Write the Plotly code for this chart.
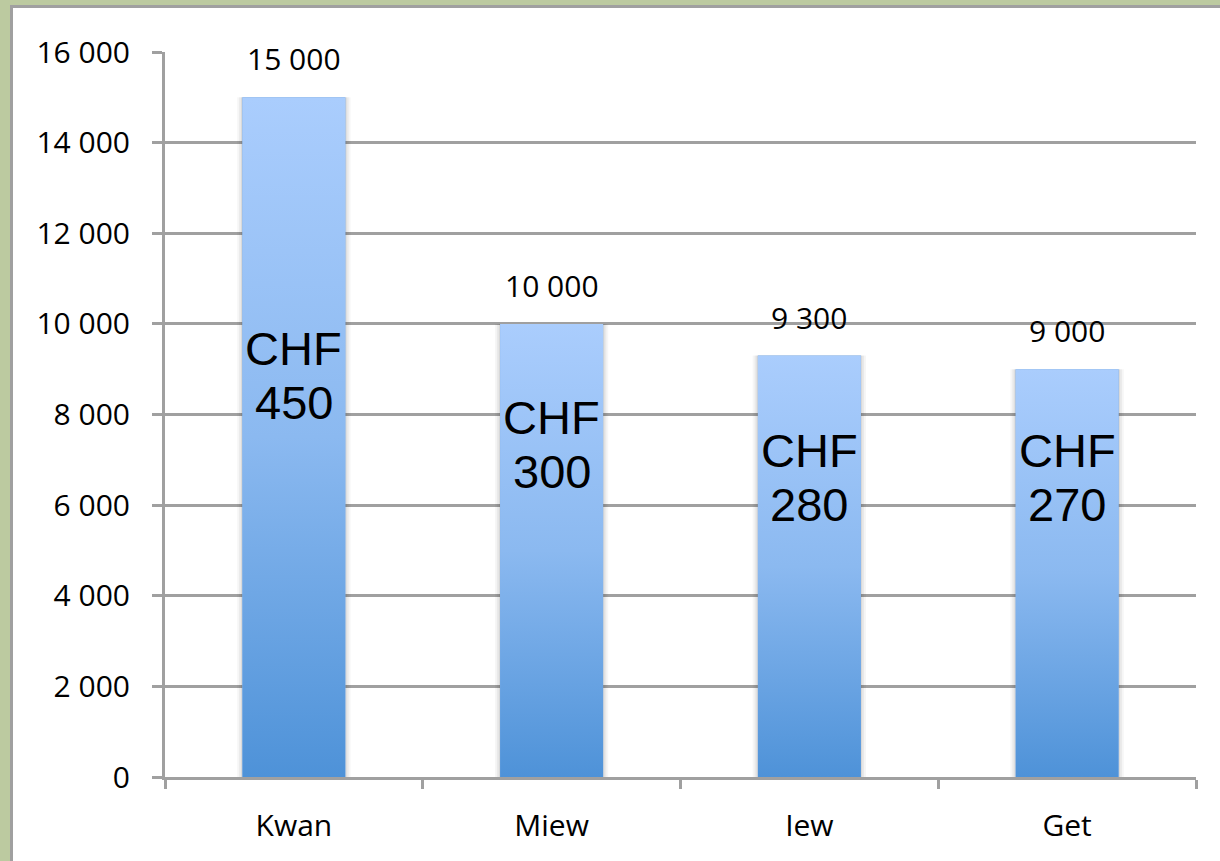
import base64
import plotly.graph_objects as go

# data
categories = ["Kwan", "Miew", "Iew", "Get"]
counts = [15000, 10000, 9300, 9000]
prices = [450, 300, 280, 270]

# heights (data units) where the CHF labels sit inside the bars
chf_label_y = [8850, 7330, 6600, 6600]

W, H = 1220, 861
ML, MT = 165, 52
PW, PH = 1031, 725
MR, MB = W - ML - PW, H - MT - PH
GRID = "#a0a0a0"


def fmt(v):
    return f"{v:,}".replace(",", " ")


# vertical gradient for the bars (light top -> darker bottom)
svg = ('<svg xmlns="http://www.w3.org/2000/svg" width="10" height="100" viewBox="0 0 10 100" '
       'preserveAspectRatio="none"><defs><linearGradient id="g" x1="0" y1="0" x2="0" y2="1">'
       '<stop offset="0" stop-color="#aacdfd"/><stop offset="0.5" stop-color="#8bb9f0"/>'
       '<stop offset="1" stop-color="#4e92d8"/></linearGradient></defs>'
       '<rect width="10" height="100" fill="url(#g)"/></svg>')
grad_src = "data:image/svg+xml;base64," + base64.b64encode(svg.encode()).decode()

bar_w = 0.4
lab_font = dict(family="Open Sans", size=30, color="black")
chf_font = dict(family="Liberation Sans, Arial", size=47, color="black")

fig = go.Figure()
# soft shadow round the bars
for sw, a in [(0.44, 0.035), (0.425, 0.05), (0.41, 0.07)]:
    fig.add_trace(go.Bar(
        x=categories, y=counts, width=sw,
        marker=dict(color=f"rgba(0,0,0,{a})", line=dict(width=0)),
        hoverinfo="skip",
    ))
fig.add_trace(go.Bar(
    x=categories, y=counts,
    marker=dict(color="#7fb0ea", line=dict(width=0)),
    width=bar_w,
    hoverinfo="x+y",
))

images = []
annotations = []
for i, (c, v, p, ly) in enumerate(zip(categories, counts, prices, chf_label_y)):
    images.append(dict(
        source=grad_src, xref="x", yref="y",
        x=i - bar_w / 2, y=v, sizex=bar_w, sizey=v,
        xanchor="left", yanchor="top", sizing="stretch", layer="above",
    ))
    annotations.append(dict(
        x=c, y=v, xref="x", yref="y", text=fmt(v), showarrow=False,
        yanchor="bottom", yshift=16, font=lab_font,
    ))
    annotations.append(dict(
        x=c, y=ly, xref="x", yref="y", text="CHF", showarrow=False,
        yanchor="middle", yshift=27, font=chf_font,
    ))
    annotations.append(dict(
        x=c, y=ly, xref="x", yref="y", text=str(p), showarrow=False,
        yanchor="middle", yshift=-27, font=chf_font,
    ))

panel = dict(
    type="rect", xref="paper", yref="paper", layer="below",
    x0=(11.5 - ML) / PW, x1=1.2,
    y0=-0.3, y1=(H - MB - 6.5) / PH,
    fillcolor="white", line=dict(color=GRID, width=3),
)

fig.update_layout(
    width=W, height=H,
    margin=dict(l=ML, r=MR, t=MT, b=MB),
    paper_bgcolor="#bccaa0",
    plot_bgcolor="rgba(0,0,0,0)",
    separators=". ",
    showlegend=False,
    barmode="overlay",
    images=images,
    annotations=annotations,
    shapes=[panel],
    font=lab_font,
    xaxis=dict(
        type="category",
        showgrid=False,
        showline=True, linecolor=GRID, linewidth=3,
        ticks="outside", tickson="boundaries", ticklen=9, tickwidth=3, tickcolor=GRID,
        ticklabelstandoff=20,
        tickfont=lab_font,
        range=[-0.5, 3.5],
    ),
    yaxis=dict(
        range=[0, 16000], dtick=2000, tickformat=",",
        showgrid=True, gridcolor=GRID, gridwidth=3,
        showline=True, linecolor=GRID, linewidth=3,
        ticks="outside", ticklen=10, tickwidth=3, tickcolor=GRID,
        ticklabelstandoff=16,
        tickfont=lab_font,
        zeroline=False,
    ),
)

# drop the page's default body margin so the figure fills the window
fig.write_html("out.html", config={"displayModeBar": False},
               post_script="document.body.style.margin='0px';")
